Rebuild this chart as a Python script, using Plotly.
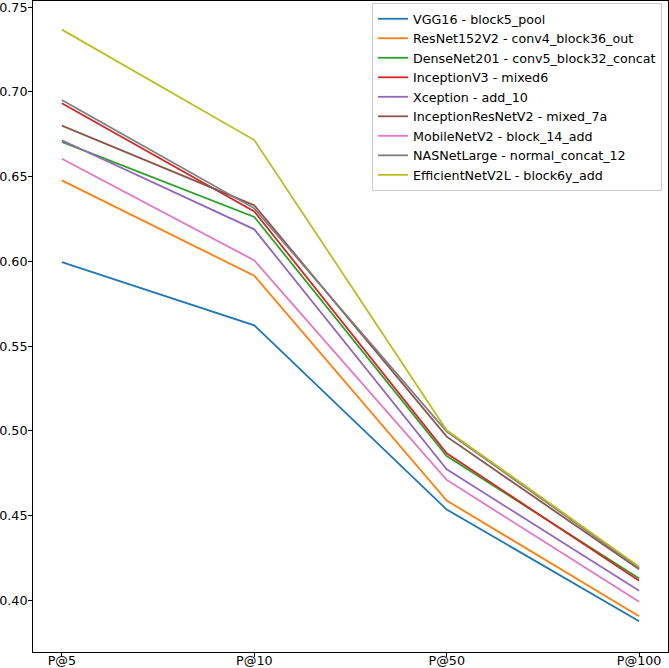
import plotly.graph_objects as go

categories = ["P@5", "P@10", "P@50", "P@100"]

series_names = [
    "VGG16 - block5_pool",
    "ResNet152V2 - conv4_block36_out",
    "DenseNet201 - conv5_block32_concat",
    "InceptionV3 - mixed6",
    "Xception - add_10",
    "InceptionResNetV2 - mixed_7a",
    "MobileNetV2 - block_14_add",
    "NASNetLarge - normal_concat_12",
    "EfficientNetV2L - block6y_add",
]

vgg16 = [0.5995, 0.5622, 0.4535, 0.3875]
resnet152v2 = [0.6478, 0.5915, 0.4588, 0.3905]
densenet201 = [0.6705, 0.6262, 0.4851, 0.4128]
inceptionv3 = [0.6933, 0.6295, 0.4867, 0.4114]
xception = [0.6715, 0.6189, 0.4773, 0.4055]
inceptionresnetv2 = [0.6801, 0.6331, 0.4965, 0.4182]
mobilenetv2 = [0.6606, 0.6006, 0.4710, 0.3990]
nasnetlarge = [0.6953, 0.6313, 0.4995, 0.4190]
efficientnetv2l = [0.7368, 0.6716, 0.5003, 0.4198]

series_values = [vgg16, resnet152v2, densenet201, inceptionv3, xception,
                 inceptionresnetv2, mobilenetv2, nasnetlarge, efficientnetv2l]

colors = ["#1f77b4", "#ff7f0e", "#2ca02c", "#d62728", "#9467bd",
          "#8c564b", "#e377c2", "#7f7f7f", "#bcbd22"]

y_ticks = [0.40, 0.45, 0.50, 0.55, 0.60, 0.65, 0.70, 0.75]

FONT = "DejaVu Sans"
FS = 12.7

fig = go.Figure()
for name, vals, col in zip(series_names, series_values, colors):
    fig.add_trace(go.Scatter(
        x=list(range(len(categories))), y=vals, mode="lines", name=name,
        line=dict(color=col, width=1.8),
    ))

W, H = 669, 668
ml, mr, mt, mb = 33, 1, 1, 16
fig.update_layout(
    width=W, height=H,
    margin=dict(l=ml, r=mr, t=mt, b=mb, pad=0),
    paper_bgcolor="white", plot_bgcolor="white",
    font=dict(family=FONT, size=FS, color="black"),
    showlegend=True,
    legend=dict(
        x=(662 - ml) / (W - ml - mr), xanchor="right",
        y=1 - (3 - mt) / (H - mt - mb), yanchor="top",
        bgcolor="white", bordercolor="#cccccc", borderwidth=1,
        font=dict(family=FONT, size=FS, color="black"),
        itemwidth=30, tracegroupgap=0,
    ),
    xaxis=dict(
        range=[-0.15, 3.15], tickmode="array",
        tickvals=list(range(len(categories))), ticktext=categories,
        showgrid=False, zeroline=False, showline=True, linecolor="black",
        linewidth=1, mirror=True, ticks="outside", ticklen=4, tickwidth=1,
        tickcolor="black", automargin=False, ticklabelstandoff=-7,
        ticklabeloverflow="allow",
        tickfont=dict(family=FONT, size=FS, color="black"),
    ),
    yaxis=dict(
        range=[0.3694, 0.7537], tickmode="array", tickvals=y_ticks,
        ticktext=[f"{v:.2f}" for v in y_ticks],
        showgrid=False, zeroline=False, showline=True, linecolor="black",
        linewidth=1, mirror=True, ticks="outside", ticklen=4, tickwidth=1,
        tickcolor="black", automargin=False, ticklabelstandoff=-2,
        ticklabeloverflow="allow",
        tickfont=dict(family=FONT, size=FS, color="black"),
    ),
)

fig.write_html(
    "out.html",
    config={"displayModeBar": False},
    post_script="document.body.style.margin='0';document.body.style.overflow='hidden';",
)
